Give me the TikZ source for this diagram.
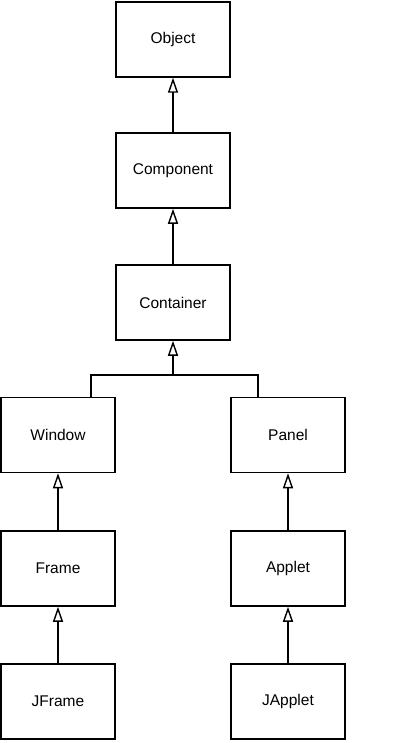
\documentclass[tikz,border=0pt]{standalone}
\usepackage{fontspec}
\setmainfont{Liberation Sans}
\usetikzlibrary{arrows.meta, positioning}

\begin{document}
\begin{tikzpicture}[
    x=1pt, y=-1pt,
    line width=1.5pt,
    cls/.style={draw, minimum width=114pt, minimum height=75pt, font=\fontsize{15.5}{18}\selectfont, inner sep=0pt},
    inherit/.style={-{Triangle[open, length=15pt, width=10pt, line width=1.4pt]}}
]
\useasboundingbox (0,0) rectangle (400,743);

% Classes
\node[cls] (Object)    at (173, 39.5)  {Object};
\node[cls] (Component) at (173, 170.5) {Component};
\node[cls] (Container) at (173, 302.5) {Container};
\node[cls] (Window)    at (58, 435)    {Window};
\node[cls] (Panel)     at (288, 435)   {Panel};
\node[cls] (Frame)     at (58, 568.5)  {Frame};
\node[cls] (Applet)    at (288, 568.5) {Applet};
\node[cls] (JFrame)    at (58, 701.5)  {JFrame};
\node[cls] (JApplet)   at (288, 701.5) {JApplet};

% Single inheritance
\draw[inherit] (Component) -- (Object);
\draw[inherit] (Container) -- (Component);
\draw[inherit] (Frame) -- (Window);
\draw[inherit] (JFrame) -- (Frame);
\draw[inherit] (Applet) -- (Panel);
\draw[inherit] (JApplet) -- (Applet);

% Shared branch into Container
\coordinate (join) at (173, 375);
\coordinate (wj) at (91, 375);
\coordinate (pj) at (258, 375);
\draw (Window.north -| wj) -- (wj) -- (pj) -- (Panel.north -| pj);
\draw[inherit] (join) -- (Container.south);
\end{tikzpicture}
\end{document}
